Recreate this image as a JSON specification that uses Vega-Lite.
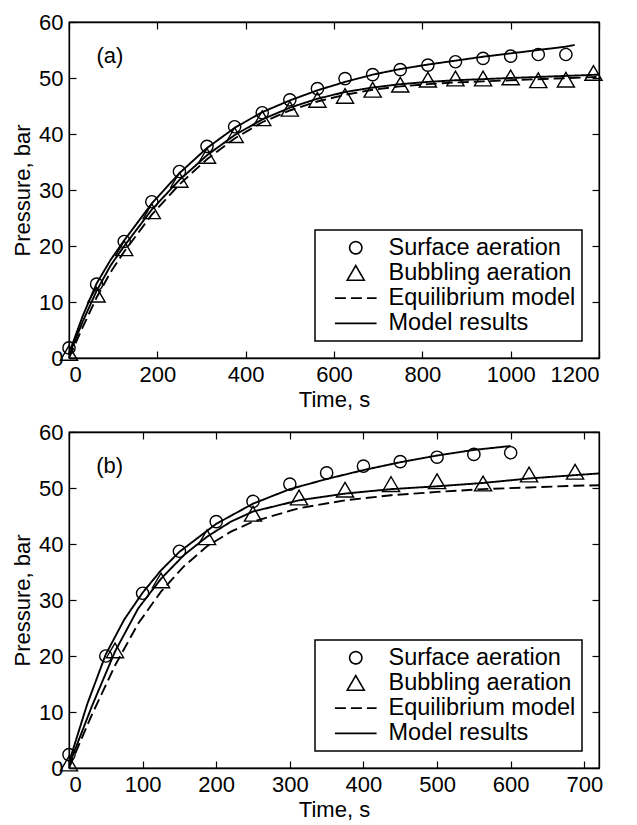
{
  "$schema": "https://vega.github.io/schema/vega-lite/v6.json",
  "padding": {"left": 10, "top": 10, "right": 5, "bottom": 5},
  "background": "white",
  "config": {
    "font": "Liberation Sans",
    "view": {"stroke": "black", "strokeWidth": 1.3},
    "axis": {
      "labelFont": "Liberation Sans", "titleFont": "Liberation Sans",
      "labelFontSize": 22, "titleFontSize": 22, "titleFontWeight": "normal",
      "labelColor": "black", "titleColor": "black",
      "domainColor": "black", "tickColor": "black", "domainWidth": 1.3, "tickWidth": 1.2,
      "grid": false, "tickSize": -7, "labelPadding": 13, "format": "d"
    },
    "legend": {
      "orient": "bottom-right", "offset": 17,
      "labelFont": "Liberation Sans", "labelFontSize": 23.5, "labelColor": "black", "labelLimit": 400,
      "strokeColor": "black", "strokeWidth": 1.5, "fillColor": "white", "padding": 6,
      "symbolSize": 150, "symbolStrokeWidth": 1.6, "symbolStrokeColor": "black",
      "symbolFillColor": "transparent", "symbolOffset": 23, "labelOffset": 21, "rowPadding": 0.2
    }
  },
  "datasets": {
    "a_pts": [
      {"t": 0, "p": 1.8, "series": "Surface aeration"},
      {"t": 62.5, "p": 13.2, "series": "Surface aeration"},
      {"t": 125, "p": 20.8, "series": "Surface aeration"},
      {"t": 187.5, "p": 27.9, "series": "Surface aeration"},
      {"t": 250, "p": 33.3, "series": "Surface aeration"},
      {"t": 312.5, "p": 37.8, "series": "Surface aeration"},
      {"t": 375, "p": 41.3, "series": "Surface aeration"},
      {"t": 437.5, "p": 43.8, "series": "Surface aeration"},
      {"t": 500, "p": 46.1, "series": "Surface aeration"},
      {"t": 562.5, "p": 48.1, "series": "Surface aeration"},
      {"t": 625, "p": 49.9, "series": "Surface aeration"},
      {"t": 687.5, "p": 50.6, "series": "Surface aeration"},
      {"t": 750, "p": 51.5, "series": "Surface aeration"},
      {"t": 812.5, "p": 52.3, "series": "Surface aeration"},
      {"t": 875, "p": 52.9, "series": "Surface aeration"},
      {"t": 937.5, "p": 53.5, "series": "Surface aeration"},
      {"t": 1000, "p": 53.9, "series": "Surface aeration"},
      {"t": 1062.5, "p": 54.2, "series": "Surface aeration"},
      {"t": 1125, "p": 54.2, "series": "Surface aeration"},
      {"t": 0, "p": 0.9, "series": "Bubbling aeration"},
      {"t": 62.5, "p": 11.3, "series": "Bubbling aeration"},
      {"t": 125, "p": 19.6, "series": "Bubbling aeration"},
      {"t": 187.5, "p": 26.2, "series": "Bubbling aeration"},
      {"t": 250, "p": 31.8, "series": "Bubbling aeration"},
      {"t": 312.5, "p": 36.1, "series": "Bubbling aeration"},
      {"t": 375, "p": 39.8, "series": "Bubbling aeration"},
      {"t": 437.5, "p": 42.8, "series": "Bubbling aeration"},
      {"t": 500, "p": 44.5, "series": "Bubbling aeration"},
      {"t": 562.5, "p": 46.1, "series": "Bubbling aeration"},
      {"t": 625, "p": 46.8, "series": "Bubbling aeration"},
      {"t": 687.5, "p": 47.9, "series": "Bubbling aeration"},
      {"t": 750, "p": 48.8, "series": "Bubbling aeration"},
      {"t": 812.5, "p": 49.7, "series": "Bubbling aeration"},
      {"t": 875, "p": 49.9, "series": "Bubbling aeration"},
      {"t": 937.5, "p": 49.9, "series": "Bubbling aeration"},
      {"t": 1000, "p": 50.1, "series": "Bubbling aeration"},
      {"t": 1062.5, "p": 49.6, "series": "Bubbling aeration"},
      {"t": 1125, "p": 49.7, "series": "Bubbling aeration"},
      {"t": 1187.5, "p": 50.9, "series": "Bubbling aeration"}
    ],
    "a_lines": [
      {"t": 0, "p": 0.8, "curve": "surf", "series": "Model results"},
      {"t": 31, "p": 7.5, "curve": "surf", "series": "Model results"},
      {"t": 62.5, "p": 13.3, "curve": "surf", "series": "Model results"},
      {"t": 94, "p": 17.5, "curve": "surf", "series": "Model results"},
      {"t": 125, "p": 21.0, "curve": "surf", "series": "Model results"},
      {"t": 187.5, "p": 27.6, "curve": "surf", "series": "Model results"},
      {"t": 250, "p": 33.0, "curve": "surf", "series": "Model results"},
      {"t": 312.5, "p": 37.5, "curve": "surf", "series": "Model results"},
      {"t": 375, "p": 41.1, "curve": "surf", "series": "Model results"},
      {"t": 437.5, "p": 43.9, "curve": "surf", "series": "Model results"},
      {"t": 500, "p": 46.0, "curve": "surf", "series": "Model results"},
      {"t": 562.5, "p": 47.8, "curve": "surf", "series": "Model results"},
      {"t": 625, "p": 49.3, "curve": "surf", "series": "Model results"},
      {"t": 687.5, "p": 50.6, "curve": "surf", "series": "Model results"},
      {"t": 750, "p": 51.6, "curve": "surf", "series": "Model results"},
      {"t": 812.5, "p": 52.4, "curve": "surf", "series": "Model results"},
      {"t": 875, "p": 53.1, "curve": "surf", "series": "Model results"},
      {"t": 937.5, "p": 53.8, "curve": "surf", "series": "Model results"},
      {"t": 1000, "p": 54.4, "curve": "surf", "series": "Model results"},
      {"t": 1062.5, "p": 55.0, "curve": "surf", "series": "Model results"},
      {"t": 1125, "p": 55.6, "curve": "surf", "series": "Model results"},
      {"t": 1145, "p": 55.9, "curve": "surf", "series": "Model results"},
      {"t": 0, "p": 0.5, "curve": "bub", "series": "Model results"},
      {"t": 31, "p": 6.5, "curve": "bub", "series": "Model results"},
      {"t": 62.5, "p": 12.0, "curve": "bub", "series": "Model results"},
      {"t": 94, "p": 16.5, "curve": "bub", "series": "Model results"},
      {"t": 125, "p": 20.0, "curve": "bub", "series": "Model results"},
      {"t": 187.5, "p": 26.5, "curve": "bub", "series": "Model results"},
      {"t": 250, "p": 31.8, "curve": "bub", "series": "Model results"},
      {"t": 312.5, "p": 36.2, "curve": "bub", "series": "Model results"},
      {"t": 375, "p": 39.8, "curve": "bub", "series": "Model results"},
      {"t": 437.5, "p": 42.6, "curve": "bub", "series": "Model results"},
      {"t": 500, "p": 44.7, "curve": "bub", "series": "Model results"},
      {"t": 562.5, "p": 46.3, "curve": "bub", "series": "Model results"},
      {"t": 625, "p": 47.5, "curve": "bub", "series": "Model results"},
      {"t": 687.5, "p": 48.3, "curve": "bub", "series": "Model results"},
      {"t": 750, "p": 48.9, "curve": "bub", "series": "Model results"},
      {"t": 812.5, "p": 49.3, "curve": "bub", "series": "Model results"},
      {"t": 875, "p": 49.6, "curve": "bub", "series": "Model results"},
      {"t": 937.5, "p": 49.8, "curve": "bub", "series": "Model results"},
      {"t": 1000, "p": 50.0, "curve": "bub", "series": "Model results"},
      {"t": 1100, "p": 50.3, "curve": "bub", "series": "Model results"},
      {"t": 1200, "p": 50.6, "curve": "bub", "series": "Model results"},
      {"t": 0, "p": 0.0, "curve": "eq", "series": "Equilibrium model"},
      {"t": 31, "p": 5.5, "curve": "eq", "series": "Equilibrium model"},
      {"t": 62.5, "p": 10.8, "curve": "eq", "series": "Equilibrium model"},
      {"t": 94, "p": 15.3, "curve": "eq", "series": "Equilibrium model"},
      {"t": 125, "p": 19.0, "curve": "eq", "series": "Equilibrium model"},
      {"t": 187.5, "p": 25.6, "curve": "eq", "series": "Equilibrium model"},
      {"t": 250, "p": 31.0, "curve": "eq", "series": "Equilibrium model"},
      {"t": 312.5, "p": 35.5, "curve": "eq", "series": "Equilibrium model"},
      {"t": 375, "p": 39.2, "curve": "eq", "series": "Equilibrium model"},
      {"t": 437.5, "p": 42.1, "curve": "eq", "series": "Equilibrium model"},
      {"t": 500, "p": 44.2, "curve": "eq", "series": "Equilibrium model"},
      {"t": 562.5, "p": 45.8, "curve": "eq", "series": "Equilibrium model"},
      {"t": 625, "p": 47.0, "curve": "eq", "series": "Equilibrium model"},
      {"t": 687.5, "p": 47.9, "curve": "eq", "series": "Equilibrium model"},
      {"t": 750, "p": 48.5, "curve": "eq", "series": "Equilibrium model"},
      {"t": 812.5, "p": 48.9, "curve": "eq", "series": "Equilibrium model"},
      {"t": 875, "p": 49.2, "curve": "eq", "series": "Equilibrium model"},
      {"t": 937.5, "p": 49.4, "curve": "eq", "series": "Equilibrium model"},
      {"t": 1000, "p": 49.6, "curve": "eq", "series": "Equilibrium model"},
      {"t": 1100, "p": 49.9, "curve": "eq", "series": "Equilibrium model"},
      {"t": 1200, "p": 50.2, "curve": "eq", "series": "Equilibrium model"}
    ],
    "b_pts": [
      {"t": 0, "p": 2.4, "series": "Surface aeration"},
      {"t": 50, "p": 20.0, "series": "Surface aeration"},
      {"t": 100, "p": 31.2, "series": "Surface aeration"},
      {"t": 150, "p": 38.7, "series": "Surface aeration"},
      {"t": 200, "p": 44.0, "series": "Surface aeration"},
      {"t": 250, "p": 47.6, "series": "Surface aeration"},
      {"t": 300, "p": 50.7, "series": "Surface aeration"},
      {"t": 350, "p": 52.7, "series": "Surface aeration"},
      {"t": 400, "p": 53.9, "series": "Surface aeration"},
      {"t": 450, "p": 54.7, "series": "Surface aeration"},
      {"t": 500, "p": 55.5, "series": "Surface aeration"},
      {"t": 550, "p": 56.0, "series": "Surface aeration"},
      {"t": 600, "p": 56.3, "series": "Surface aeration"},
      {"t": 0, "p": 0.8, "series": "Bubbling aeration"},
      {"t": 62.5, "p": 21.0, "series": "Bubbling aeration"},
      {"t": 125, "p": 33.5, "series": "Bubbling aeration"},
      {"t": 187.5, "p": 41.2, "series": "Bubbling aeration"},
      {"t": 250, "p": 45.4, "series": "Bubbling aeration"},
      {"t": 312.5, "p": 48.3, "series": "Bubbling aeration"},
      {"t": 375, "p": 49.7, "series": "Bubbling aeration"},
      {"t": 437.5, "p": 50.7, "series": "Bubbling aeration"},
      {"t": 500, "p": 51.2, "series": "Bubbling aeration"},
      {"t": 562.5, "p": 50.8, "series": "Bubbling aeration"},
      {"t": 625, "p": 52.4, "series": "Bubbling aeration"},
      {"t": 687.5, "p": 52.9, "series": "Bubbling aeration"}
    ],
    "b_lines": [
      {"t": 0, "p": 1.0, "curve": "surf", "series": "Model results"},
      {"t": 25, "p": 11.5, "curve": "surf", "series": "Model results"},
      {"t": 50, "p": 20.3, "curve": "surf", "series": "Model results"},
      {"t": 75, "p": 26.5, "curve": "surf", "series": "Model results"},
      {"t": 100, "p": 31.3, "curve": "surf", "series": "Model results"},
      {"t": 125, "p": 35.3, "curve": "surf", "series": "Model results"},
      {"t": 150, "p": 38.6, "curve": "surf", "series": "Model results"},
      {"t": 200, "p": 43.6, "curve": "surf", "series": "Model results"},
      {"t": 250, "p": 47.2, "curve": "surf", "series": "Model results"},
      {"t": 300, "p": 49.8, "curve": "surf", "series": "Model results"},
      {"t": 350, "p": 51.6, "curve": "surf", "series": "Model results"},
      {"t": 400, "p": 53.2, "curve": "surf", "series": "Model results"},
      {"t": 450, "p": 54.6, "curve": "surf", "series": "Model results"},
      {"t": 500, "p": 55.8, "curve": "surf", "series": "Model results"},
      {"t": 550, "p": 56.8, "curve": "surf", "series": "Model results"},
      {"t": 600, "p": 57.5, "curve": "surf", "series": "Model results"},
      {"t": 0, "p": 0.5, "curve": "bub", "series": "Model results"},
      {"t": 31, "p": 11.0, "curve": "bub", "series": "Model results"},
      {"t": 62.5, "p": 20.8, "curve": "bub", "series": "Model results"},
      {"t": 94, "p": 28.5, "curve": "bub", "series": "Model results"},
      {"t": 125, "p": 33.8, "curve": "bub", "series": "Model results"},
      {"t": 156, "p": 38.0, "curve": "bub", "series": "Model results"},
      {"t": 187.5, "p": 41.3, "curve": "bub", "series": "Model results"},
      {"t": 220, "p": 44.0, "curve": "bub", "series": "Model results"},
      {"t": 250, "p": 45.8, "curve": "bub", "series": "Model results"},
      {"t": 312.5, "p": 47.8, "curve": "bub", "series": "Model results"},
      {"t": 375, "p": 49.0, "curve": "bub", "series": "Model results"},
      {"t": 437.5, "p": 49.8, "curve": "bub", "series": "Model results"},
      {"t": 500, "p": 50.3, "curve": "bub", "series": "Model results"},
      {"t": 562.5, "p": 50.9, "curve": "bub", "series": "Model results"},
      {"t": 625, "p": 51.7, "curve": "bub", "series": "Model results"},
      {"t": 687.5, "p": 52.3, "curve": "bub", "series": "Model results"},
      {"t": 720, "p": 52.6, "curve": "bub", "series": "Model results"},
      {"t": 0, "p": 0.0, "curve": "eq", "series": "Equilibrium model"},
      {"t": 31, "p": 9.5, "curve": "eq", "series": "Equilibrium model"},
      {"t": 62.5, "p": 18.3, "curve": "eq", "series": "Equilibrium model"},
      {"t": 94, "p": 25.8, "curve": "eq", "series": "Equilibrium model"},
      {"t": 125, "p": 31.5, "curve": "eq", "series": "Equilibrium model"},
      {"t": 156, "p": 36.0, "curve": "eq", "series": "Equilibrium model"},
      {"t": 187.5, "p": 39.6, "curve": "eq", "series": "Equilibrium model"},
      {"t": 220, "p": 42.2, "curve": "eq", "series": "Equilibrium model"},
      {"t": 250, "p": 44.0, "curve": "eq", "series": "Equilibrium model"},
      {"t": 312.5, "p": 46.4, "curve": "eq", "series": "Equilibrium model"},
      {"t": 375, "p": 47.8, "curve": "eq", "series": "Equilibrium model"},
      {"t": 437.5, "p": 48.7, "curve": "eq", "series": "Equilibrium model"},
      {"t": 500, "p": 49.3, "curve": "eq", "series": "Equilibrium model"},
      {"t": 562.5, "p": 49.8, "curve": "eq", "series": "Equilibrium model"},
      {"t": 625, "p": 50.1, "curve": "eq", "series": "Equilibrium model"},
      {"t": 687.5, "p": 50.4, "curve": "eq", "series": "Equilibrium model"},
      {"t": 720, "p": 50.5, "curve": "eq", "series": "Equilibrium model"}
    ]
  },
  "spacing": 9,
  "vconcat": [
    {
      "width": 530, "height": 336,
      "layer": [
        {
          "data": {"name": "a_lines"},
          "mark": {"type": "line", "color": "black", "strokeWidth": 1.9},
          "encoding": {
            "x": {"field": "t", "type": "quantitative", "scale": {"domain": [0, 1200], "nice": false}, "axis": {"values": [0, 200, 400, 600, 800, 1000, 1200], "title": "Time, s", "orient": "bottom"}},
            "y": {"field": "p", "type": "quantitative", "scale": {"domain": [0, 60], "nice": false}, "axis": {"values": [0, 10, 20, 30, 40, 50, 60], "title": "Pressure, bar", "orient": "left"}},
            "detail": {"field": "curve"},
            "strokeDash": {"field": "series", "type": "nominal", "title": null,
              "scale": {"domain": ["Surface aeration", "Bubbling aeration", "Equilibrium model", "Model results"], "range": [[1, 0], [1, 0], [11, 5], [1, 0]]}}
          }
        },
        {
          "data": {"name": "a_pts"},
          "mark": {"type": "point", "filled": false, "color": "black", "size": 150, "strokeWidth": 1.4, "opacity": 1},
          "encoding": {
            "x": {"field": "t", "type": "quantitative", "axis": {"values": [0, 200, 400, 600, 800, 1000, 1200], "labels": false, "title": null, "orient": "top"}},
            "y": {"field": "p", "type": "quantitative", "axis": {"values": [0, 10, 20, 30, 40, 50, 60], "labels": false, "title": null, "orient": "right"}},
            "shape": {"field": "series", "type": "nominal", "title": null,
              "scale": {"domain": ["Surface aeration", "Bubbling aeration", "Equilibrium model", "Model results"], "range": ["circle", "M0,-1.2L1.4,1.2L-1.4,1.2Z", "M-3.4,0H3.4", "M-3.4,0H3.4"]}}
          }
        },
        {
          "data": {"values": [{}]},
          "mark": {"type": "text", "fontSize": 22, "align": "left", "baseline": "middle", "font": "Liberation Sans", "color": "black"},
          "encoding": {
            "x": {"datum": 62, "type": "quantitative", "axis": null},
            "y": {"datum": 54, "type": "quantitative", "axis": null},
            "text": {"value": "(a)"}
          }
        }
      ],
      "resolve": {"axis": {"x": "independent", "y": "independent"}}
    },
    {
      "width": 530, "height": 336,
      "layer": [
        {
          "data": {"name": "b_lines"},
          "mark": {"type": "line", "color": "black", "strokeWidth": 1.9},
          "encoding": {
            "x": {"field": "t", "type": "quantitative", "scale": {"domain": [0, 720], "nice": false}, "axis": {"values": [0, 100, 200, 300, 400, 500, 600, 700], "title": "Time, s", "orient": "bottom"}},
            "y": {"field": "p", "type": "quantitative", "scale": {"domain": [0, 60], "nice": false}, "axis": {"values": [0, 10, 20, 30, 40, 50, 60], "title": "Pressure, bar", "orient": "left"}},
            "detail": {"field": "curve"},
            "strokeDash": {"field": "series", "type": "nominal", "title": null,
              "scale": {"domain": ["Surface aeration", "Bubbling aeration", "Equilibrium model", "Model results"], "range": [[1, 0], [1, 0], [11, 5], [1, 0]]}}
          }
        },
        {
          "data": {"name": "b_pts"},
          "mark": {"type": "point", "filled": false, "color": "black", "size": 150, "strokeWidth": 1.4, "opacity": 1},
          "encoding": {
            "x": {"field": "t", "type": "quantitative", "axis": {"values": [0, 100, 200, 300, 400, 500, 600, 700], "labels": false, "title": null, "orient": "top"}},
            "y": {"field": "p", "type": "quantitative", "axis": {"values": [0, 10, 20, 30, 40, 50, 60], "labels": false, "title": null, "orient": "right"}},
            "shape": {"field": "series", "type": "nominal", "title": null,
              "scale": {"domain": ["Surface aeration", "Bubbling aeration", "Equilibrium model", "Model results"], "range": ["circle", "M0,-1.2L1.4,1.2L-1.4,1.2Z", "M-3.4,0H3.4", "M-3.4,0H3.4"]}}
          }
        },
        {
          "data": {"values": [{}]},
          "mark": {"type": "text", "fontSize": 22, "align": "left", "baseline": "middle", "font": "Liberation Sans", "color": "black"},
          "encoding": {
            "x": {"datum": 37, "type": "quantitative", "axis": null},
            "y": {"datum": 54, "type": "quantitative", "axis": null},
            "text": {"value": "(b)"}
          }
        }
      ],
      "resolve": {"axis": {"x": "independent", "y": "independent"}}
    }
  ],
  "resolve": {"scale": {"shape": "independent", "strokeDash": "independent"}, "legend": {"shape": "independent", "strokeDash": "independent"}}
}
